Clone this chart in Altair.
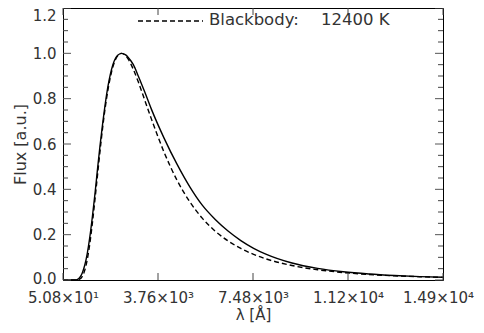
import altair as alt
import pandas as pd

# ---- data ----
wavelength_bb = [50.8, 400, 600, 700, 800, 900, 1000, 1100, 1200, 1300,
                 1400, 1500, 1600, 1800, 2000, 2200, 2337, 2500, 2600, 2800,
                 3000, 3250, 3500, 4000, 4500, 5000, 5500, 6000, 6500, 7000,
                 7500, 8000, 9000, 10000, 11000, 12000, 13000, 14000, 14900]
flux_bb = [0, 0, 0.0005, 0.0037, 0.0153, 0.0423, 0.091, 0.1617, 0.252, 0.3553,
           0.464, 0.571, 0.672, 0.834, 0.940, 0.991, 1.0, 0.989, 0.974, 0.929,
           0.872, 0.792, 0.712, 0.564, 0.4415, 0.346, 0.272, 0.2156, 0.1724, 0.139,
           0.1131, 0.0927, 0.0639, 0.0453, 0.0329, 0.0245, 0.0185, 0.0143, 0.0115]

wavelength_obs = [50.8, 500, 600, 700, 800, 900, 1000, 1100, 1200, 1300,
                  1400, 1500, 1600, 1800, 2000, 2200, 2350, 2500, 2600, 2800,
                  3000, 3250, 3500, 4000, 4500, 5000, 5500, 6000, 6500, 7000,
                  7500, 8000, 9000, 10000, 11000, 12000, 13000, 14000, 14900]
flux_obs = [0, 0, 0.002, 0.010, 0.030, 0.065, 0.118, 0.19, 0.28, 0.38,
            0.49, 0.595, 0.69, 0.85, 0.95, 0.993, 1.0, 0.993, 0.982, 0.95,
            0.898, 0.828, 0.755, 0.626, 0.512, 0.412, 0.329, 0.267, 0.216, 0.174,
            0.140, 0.113, 0.0748, 0.0512, 0.0362, 0.0265, 0.0198, 0.015, 0.012]

x_tick_values = [50.8, 3763.1, 7475.4, 11187.7, 14900]
x_tick_labels = ["5.08×10¹", "3.76×10³", "7.48×10³", "1.12×10⁴", "1.49×10⁴"]
y_major = [0.0, 0.2, 0.4, 0.6, 0.8, 1.0, 1.2]
y_minor = [0.05, 0.1, 0.15, 0.25, 0.3, 0.35, 0.45, 0.5, 0.55, 0.65, 0.7, 0.75,
           0.85, 0.9, 0.95, 1.05, 1.1, 1.15]
legend_labels = ["Blackbody:", "12400 K"]

x_title = "λ [Å]"
y_title = "Flux [a.u.]"

# ---- layout ----
W, H = 380, 272
FONT = "DejaVu Sans"
INK = "#333333"

x_scale = alt.Scale(domain=[50.8, 14900], nice=False, zero=False)
y_scale = alt.Scale(domain=[0, 1.2], nice=False, zero=False)

label_expr = "[" + ",".join("'%s'" % s for s in x_tick_labels) + "][indexof([" + \
    ",".join(str(v) for v in x_tick_values) + "], datum.value)]"

x_axis = alt.Axis(values=x_tick_values, labelExpr=label_expr, title=x_title,
                  ticks=False, domain=False, grid=False,
                  labelFontSize=15, labelPadding=10, titleFontSize=15,
                  titlePadding=2, labelFlush=False,
                  labelOffset={"condition": {"test": "datum.value == 14900", "value": -5},
                               "value": 0})
y_axis = alt.Axis(values=y_major, format=".1f", title=y_title,
                  ticks=False, domain=False, grid=False,
                  labelFontSize=15, labelPadding=7, titleFontSize=16,
                  titlePadding=4, labelFlush=False,
                  labelOffset={"condition": {"test": "datum.value == 0", "value": -2},
                               "value": 0},
                  labelBaseline={"condition": {"test": "datum.value == 1.2", "value": "top"},
                                 "value": "middle"})

X = alt.X("wavelength:Q", scale=x_scale, axis=x_axis)
Y = alt.Y("flux:Q", scale=y_scale, axis=y_axis)

obs_df = pd.DataFrame({"wavelength": wavelength_obs, "flux": flux_obs})
bb_df = pd.DataFrame({"wavelength": wavelength_bb, "flux": flux_bb})

solid = alt.Chart(obs_df).mark_line(color="black", strokeWidth=1.4, interpolate="monotone").encode(x=X, y=Y)
dashed = alt.Chart(bb_df).mark_line(color="black", strokeWidth=1.4, strokeDash=[5, 3],
                                    interpolate="monotone").encode(x=X, y=Y)

ymaj_df = pd.DataFrame({"flux": y_major})
ymin_df = pd.DataFrame({"flux": y_minor})
xmaj_df = pd.DataFrame({"wavelength": x_tick_values})


def yticks(df, length, color):
    left = alt.Chart(df).mark_rule(color=color, strokeWidth=1).encode(
        y=Y, x=alt.value(0), x2=alt.value(length))
    right = alt.Chart(df).mark_rule(color=color, strokeWidth=1).encode(
        y=Y, x=alt.value(W - length), x2=alt.value(W))
    return [left, right]


def xticks(df, length, color):
    bottom = alt.Chart(df).mark_rule(color=color, strokeWidth=1).encode(
        x=X, y=alt.value(H), y2=alt.value(H - length))
    top = alt.Chart(df).mark_rule(color=color, strokeWidth=1).encode(
        x=X, y=alt.value(0), y2=alt.value(length))
    return [bottom, top]


tick_layers = yticks(ymaj_df, 8, "#555555") + yticks(ymin_df, 5, "#444444") + xticks(xmaj_df, 7, "#444444")

leg_df = pd.DataFrame({"label": legend_labels})
legend_line = alt.Chart(leg_df.head(1)).mark_rule(color="black", strokeWidth=1.4, strokeDash=[5, 3]).encode(
    x=alt.value(75), x2=alt.value(140), y=alt.value(13))
legend_text1 = alt.Chart(leg_df.head(1)).mark_text(
    align="left", baseline="middle", font=FONT, fontSize=16.5, color=INK).encode(
    x=alt.value(146), y=alt.value(12), text="label:N")
legend_text2 = alt.Chart(leg_df.tail(1)).mark_text(
    align="left", baseline="middle", font=FONT, fontSize=16.5, color=INK).encode(
    x=alt.value(258), y=alt.value(12), text="label:N")

chart = alt.layer(solid, dashed, *tick_layers, legend_line, legend_text1, legend_text2).properties(
    width=W, height=H,
    autosize=alt.AutoSizeParams(type="none"),
    padding={"left": 55, "top": 0, "right": 33, "bottom": 45},
).configure_view(stroke="black", strokeWidth=1).configure_axis(
    labelFont=FONT, titleFont=FONT, labelColor=INK, titleColor=INK,
    titleFontWeight="normal",
)

chart.save("out.html", embed_options={"renderer": "svg", "actions": False})
